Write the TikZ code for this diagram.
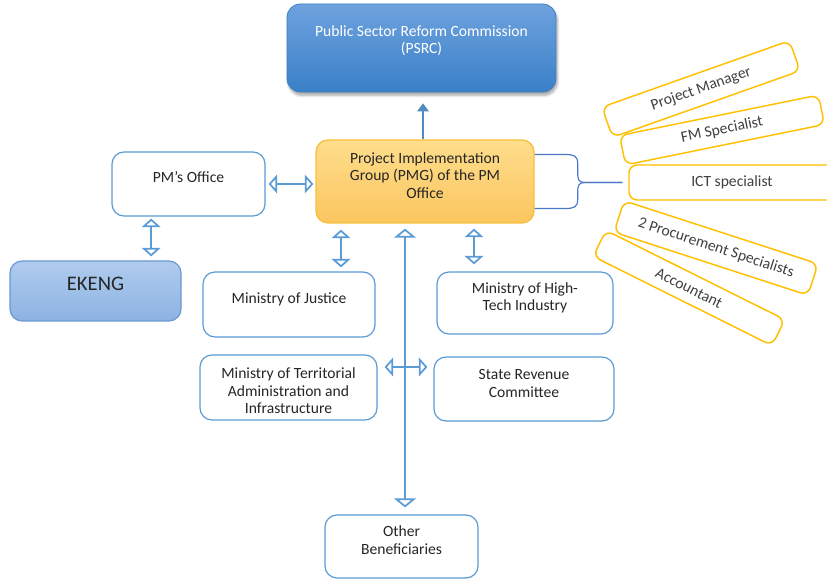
\documentclass[tikz,border=0pt]{standalone}
\usepackage{fontspec}
\setmainfont{Carlito}
\usepackage{tikz}
\usetikzlibrary{arrows.meta,calc,shadows.blur}

\definecolor{edgeblue}{RGB}{91,155,213}
\definecolor{bracketblue}{RGB}{75,120,200}
\definecolor{gold}{RGB}{255,192,0}
\definecolor{psrctop}{RGB}{110,162,222}
\definecolor{psrcbot}{RGB}{58,128,200}
\definecolor{pmgtop}{RGB}{254,221,140}
\definecolor{pmgbot}{RGB}{251,198,95}
\definecolor{pmgedge}{RGB}{247,192,60}
\definecolor{ekengtop}{RGB}{176,203,238}
\definecolor{ekengbot}{RGB}{140,179,226}
\definecolor{ekengedge}{RGB}{105,152,210}

\begin{document}
\begin{tikzpicture}[x=0.75pt,y=0.75pt,yscale=-1,
    every node/.style={font=\fontsize{11.7}{13.1}\selectfont, text=black!85},
    unitbox/.style={draw=edgeblue, line width=0.9pt, rounded corners=9pt, fill=white, align=center, inner sep=2pt},
    staffbox/.style={draw=gold, line width=1.1pt, rounded corners=6pt, fill=white, inner sep=1pt, text=black!75},
    link/.style={draw=edgeblue, line width=1.3pt, {Triangle[open,length=6.4pt,width=14pt]}-{Triangle[open,length=6.4pt,width=14pt]}},
    widelink/.style={draw=edgeblue, line width=1.3pt, {Triangle[open,length=6.8pt,width=16.5pt]}-{Triangle[open,length=6.8pt,width=16.5pt]}},
    feed/.style={draw=edgeblue!90!black, line width=1pt, -{Triangle[length=6pt,width=8.75pt]}},
    brace/.style={draw=bracketblue, line width=0.9pt}]
    %set diagram size 827 x 580
    \useasboundingbox (0,0) rectangle (827,580);
    \clip (0,0) rectangle (827,580);

    %Shape: Rounded Rectangle [PSRC]
    \node[draw=psrcbot, line width=0.6pt, rounded corners=10pt, top color=psrctop, bottom color=psrcbot,
        blur shadow={shadow xshift=1pt, shadow yshift=-2.5pt, shadow opacity=35, shadow blur steps=6},
        minimum width=201.75pt, minimum height=66pt, align=center, text=white, text depth=12.75pt] (psrc) at (421.5,48)
        {Public Sector Reform Commission\\(PSRC)};

    %Shape: Rounded Rectangle [PMG]
    \node[draw=pmgedge, line width=1pt, rounded corners=9pt, top color=pmgtop, bottom color=pmgbot,
        minimum width=163.5pt, minimum height=62.25pt, align=center, text depth=9pt] (pmg) at (425,181.5)
        {Project Implementation\\Group (PMG) of the PM\\Office};

    %Shape: Rounded Rectangle [EKENG]
    \node[draw=ekengedge, line width=0.9pt, rounded corners=9pt, top color=ekengtop, bottom color=ekengbot,
        minimum width=128.25pt, minimum height=45pt, font=\fontsize{15.5}{18}\selectfont, text depth=10.5pt] (eke) at (95.5,291) {EKENG};

    %Shape: Rounded Rectangle [offices and ministries]
    \node[unitbox, minimum width=114.75pt, minimum height=48pt, text depth=10.5pt] (pmo) at (188.5,184) {PM’s Office};
    \node[unitbox, minimum width=129pt, minimum height=48.75pt, text depth=9.75pt] (jus) at (289,304.5) {Ministry of Justice};
    \node[unitbox, minimum width=132pt, minimum height=46.5pt, text depth=10pt] (hti) at (525,303) {Ministry of High-\\Tech Industry};
    \node[unitbox, minimum width=132.75pt, minimum height=48.75pt, text height=39.5pt] (terr) at (288.5,387.5) {Ministry of Territorial\\Administration and\\Infrastructure};
    \node[unitbox, minimum width=135pt, minimum height=48pt, text depth=8.5pt] (srv) at (524,389) {State Revenue\\Committee};
    \node[unitbox, minimum width=114.75pt, minimum height=47.25pt, text depth=9.75pt] (oth) at (401.5,546.5) {Other\\Beneficiaries};

    %Shape: Rounded Rectangle [PMG staff]
    \node[staffbox, rotate=19.5, minimum width=149.25pt, minimum height=24pt] (pmgr) at (701,89) {Project Manager};
    \node[staffbox, rotate=11.5, minimum width=152.25pt, minimum height=22.5pt] (fms) at (722,130) {FM Specialist};
    \node[staffbox, minimum width=154.5pt, minimum height=26.25pt] (ict) at (732,182.5) {ICT specialist};
    \node[staffbox, rotate=-18, minimum width=153pt, minimum height=24.75pt] (proc) at (716,248) {2 Procurement Specialists};
    \node[staffbox, rotate=-26.5, minimum width=150pt, minimum height=21.75pt] (acc) at (689,288) {Accountant};

    %Straight Lines
    \draw[feed, shorten >=8.25pt] ([xshift=-1.5pt]pmg.north) -- ([xshift=-1.5pt]pmg.north |- psrc.south);
    \draw[link, shorten <=2.25pt, shorten >=1.5pt] (pmo.east) -- (pmo.east -| pmg.west);
    \draw[link, shorten <=1.5pt, shorten >=3pt] ([xshift=-28pt]pmo.south) -- ([xshift=-28pt]pmo.south |- eke.north);
    \draw[link, shorten <=4.5pt, shorten >=3pt] ([xshift=-63pt]pmg.south) -- ([xshift=-63pt]pmg.south |- jus.north);
    \draw[link, shorten <=3.75pt, shorten >=5.25pt] ([xshift=36.75pt]pmg.south) -- ([xshift=36.75pt]pmg.south |- hti.north);
    \draw[widelink, shorten <=3.75pt, shorten >=5.25pt] ([xshift=-15pt]pmg.south) -- ([xshift=-15pt]pmg.south |- oth.north);
    \coordinate (cross) at (405,367);
    \draw[link, shorten <=5.25pt, shorten >=4.5pt] (terr.east |- cross) -- (srv.west |- cross);

    %Curly bracket
    \draw[brace] ($(pmg.east)+(0,-27)$) -- ++(30,0) .. controls +(9,0) and +(0,-8) .. ++(13,9) -- ++(0,9)
        .. controls +(0,7) and +(-6,0) .. ++(7,10) -- ([xshift=-4.5pt]ict.west);
    \draw[brace] ($(pmg.east)+(0,27)$) -- ++(30,0) .. controls +(9,0) and +(0,8) .. ++(13,-9) -- ++(0,-7)
        .. controls +(0,-7) and +(-6,0) .. ++(7,-10) -- ([xshift=-4.5pt]ict.west);

\end{tikzpicture}
\end{document}
